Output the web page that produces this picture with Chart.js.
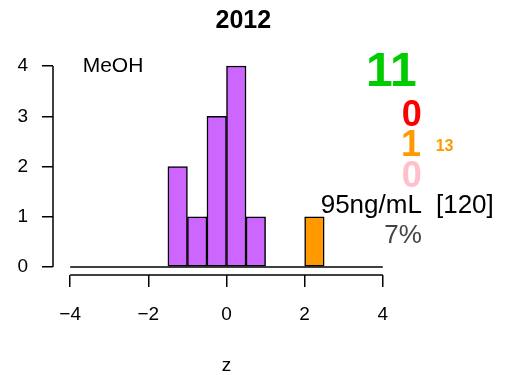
<!DOCTYPE html>
<html>
<head>
<meta charset="utf-8">
<script src="https://cdn.jsdelivr.net/npm/chart.js@4/dist/chart.umd.min.js"></script>
<style>
  html, body { margin: 0; padding: 0; background: #fff; }
  #wrap { width: 519px; height: 375px; }
</style>
</head>
<body>
<div id="wrap"><canvas id="histChart" width="519" height="375"></canvas></div>
<script>
// histogram bins of z
const binEdges = [-4, -3.5, -3, -2.5, -2, -1.5, -1, -0.5, 0, 0.5, 1, 1.5, 2, 2.5, 3, 3.5, 4];
const counts   = [0, 0, 0, 0, 0, 2, 1, 3, 4, 1, 0, 0, 1, 0, 0, 0];
const flagged  = [false, false, false, false, false, false, false, false, false, false, false, false, true, false, false, false];
const xTicks = [-4, -2, 0, 2, 4];
const yTicks = [0, 1, 2, 3, 4];

const FONT = "'Liberation Sans', Arial, Helvetica, sans-serif";
const PURPLE = '#CC66FF';
const ORANGE = '#FF9900';

const barData = counts.map((c, i) => ({ x: (binEdges[i] + binEdges[i + 1]) / 2, y: c }));

// text printed round the plot (data coords)
const notes = [
    { text: '2012',    x: 0.43,  y: 4.90, color: '#000', font: 'bold 25px', align: 'center' },
    { text: 'MeOH',    x: -3.68, y: 4.0,  color: '#000', font: '21px', align: 'left' },
    { text: '11',      x: 4.22,  y: 3.87, color: '#00CC00', font: 'bold 48px', align: 'center' },
    { text: '0',       x: 4.74,  y: 3.0,  color: '#FF0000', font: 'bold 36px', align: 'center' },
    { text: '1',       x: 4.72,  y: 2.41, color: ORANGE, font: 'bold 36px', align: 'center' },
    { text: '13',      x: 5.58,  y: 2.39, color: ORANGE, font: 'bold 16px', align: 'center' },
    { text: '0',       x: 4.74,  y: 1.78, color: '#FFC0CB', font: 'bold 36px', align: 'center' },
    { text: '95ng/mL', x: 5.0,   y: 1.21, color: '#000', font: '26px', align: 'right' },
    { text: '[120]',   x: 5.36,  y: 1.21, color: '#000', font: '26px', align: 'left' },
    { text: '7%',      x: 5.0,   y: 0.62, color: '#444', font: '26px', align: 'right' }
];

const axesAndNotes = {
    id: 'axesAndNotes',
    afterDraw(chart) {
        const c = chart.ctx;
        const xs = chart.scales.x, ys = chart.scales.y;
        c.save();
        c.strokeStyle = '#000';
        c.lineWidth = 1.5;
        // R style axis lines, only across the tick range
        c.beginPath();
        c.moveTo(xs.getPixelForValue(xTicks[0]), xs.top);
        c.lineTo(xs.getPixelForValue(xTicks[xTicks.length - 1]), xs.top);
        c.moveTo(ys.right, ys.getPixelForValue(yTicks[0]));
        c.lineTo(ys.right, ys.getPixelForValue(yTicks[yTicks.length - 1]));
        c.stroke();
        c.textBaseline = 'middle';
        notes.forEach(n => {
            c.font = n.font + ' ' + FONT;
            c.fillStyle = n.color;
            c.textAlign = n.align;
            c.fillText(n.text, xs.getPixelForValue(n.x), ys.getPixelForValue(n.y));
        });
        c.restore();
    }
};

const ctx = document.getElementById('histChart').getContext('2d');
new Chart(ctx, {
    type: 'bar',
    data: {
        datasets: [
            {
                type: 'line',
                data: [{ x: binEdges[0], y: 0 }, { x: binEdges[binEdges.length - 1], y: 0 }],
                borderColor: '#000',
                borderWidth: 1.5,
                pointRadius: 0,
                order: 2
            },
            {
                data: barData,
                backgroundColor: flagged.map(f => f ? ORANGE : PURPLE),
                borderColor: '#000',
                borderWidth: 1.5,
                borderSkipped: false,
                barPercentage: 1,
                categoryPercentage: 1,
                order: 1
            }
        ]
    },
    options: {
        responsive: false,
        animation: false,
        layout: { padding: { left: 0, right: 119, top: 58, bottom: 0 } },
        plugins: {
            legend: { display: false },
            tooltip: { enabled: false },
            title: { display: false }
        },
        scales: {
            x: {
                type: 'linear',
                min: -4.44,
                max: 4.44,
                offset: false,
                afterBuildTicks: s => { s.ticks = xTicks.map(v => ({ value: v })); },
                afterFit: s => { s.height = 100; },
                ticks: {
                    color: '#000',
                    font: { family: FONT, size: 19 },
                    padding: 16,
                    maxRotation: 0,
                    callback: v => v < 0 ? '\u2212' + Math.abs(v) : String(v)
                },
                grid: { offset: false, drawOnChartArea: false, drawTicks: true, tickLength: 12, color: '#000', lineWidth: 1.5 },
                border: { display: false },
                title: { display: true, text: 'z', color: '#000', font: { family: FONT, size: 19, lineHeight: 1 }, padding: { top: 0, bottom: 0 } }
            },
            y: {
                min: -0.16,
                max: 4.16,
                afterBuildTicks: s => { s.ticks = yTicks.map(v => ({ value: v })); },
                afterFit: s => { s.width = 53; },
                ticks: {
                    color: '#000',
                    font: { family: FONT, size: 19 },
                    padding: 14
                },
                grid: { drawOnChartArea: false, drawTicks: true, tickLength: 11, color: '#000', lineWidth: 1.5 },
                border: { display: false }
            }
        }
    },
    plugins: [axesAndNotes]
});
</script>
</body>
</html>
